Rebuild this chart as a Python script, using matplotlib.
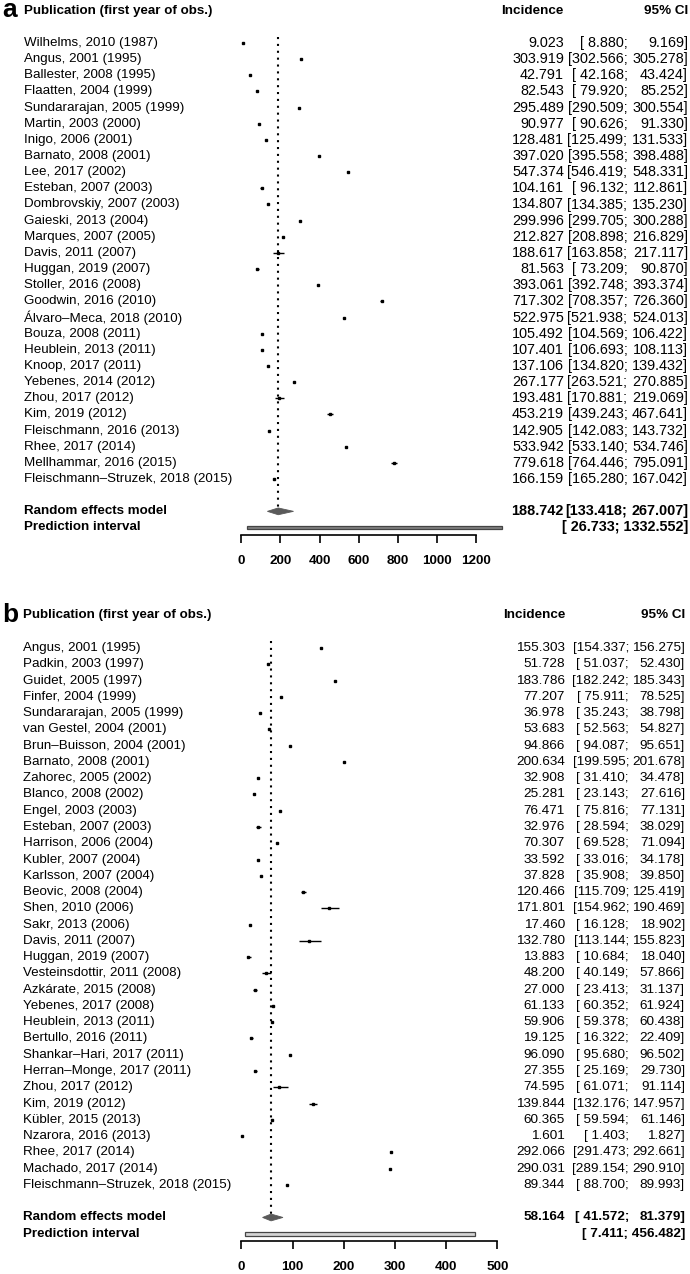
import matplotlib
matplotlib.use("Agg")
import matplotlib.pyplot as plt
from matplotlib.transforms import blended_transform_factory
from matplotlib.patches import Polygon, Rectangle

# ---- panel a: incidence, all studies
studies_a = ["Wilhelms, 2010 (1987)", "Angus, 2001 (1995)", "Ballester, 2008 (1995)",
             "Flaatten, 2004 (1999)", "Sundararajan, 2005 (1999)", "Martin, 2003 (2000)",
             "Inigo, 2006 (2001)", "Barnato, 2008 (2001)", "Lee, 2017 (2002)",
             "Esteban, 2007 (2003)", "Dombrovskiy, 2007 (2003)", "Gaieski, 2013 (2004)",
             "Marques, 2007 (2005)", "Davis, 2011 (2007)", "Huggan, 2019 (2007)",
             "Stoller, 2016 (2008)", "Goodwin, 2016 (2010)", "Álvaro–Meca, 2018 (2010)",
             "Bouza, 2008 (2011)", "Heublein, 2013 (2011)", "Knoop, 2017 (2011)",
             "Yebenes, 2014 (2012)", "Zhou, 2017 (2012)", "Kim, 2019 (2012)",
             "Fleischmann, 2016 (2013)", "Rhee, 2017 (2014)", "Mellhammar, 2016 (2015)",
             "Fleischmann–Struzek, 2018 (2015)"]
inc_a = [9.023, 303.919, 42.791, 82.543, 295.489, 90.977, 128.481, 397.020, 547.374,
         104.161, 134.807, 299.996, 212.827, 188.617, 81.563, 393.061, 717.302, 522.975,
         105.492, 107.401, 137.106, 267.177, 193.481, 453.219, 142.905, 533.942, 779.618,
         166.159]
lo_a = [8.880, 302.566, 42.168, 79.920, 290.509, 90.626, 125.499, 395.558, 546.419,
        96.132, 134.385, 299.705, 208.898, 163.858, 73.209, 392.748, 708.357, 521.938,
        104.569, 106.693, 134.820, 263.521, 170.881, 439.243, 142.083, 533.140, 764.446,
        165.280]
hi_a = [9.169, 305.278, 43.424, 85.252, 300.554, 91.330, 131.533, 398.488, 548.331,
        112.861, 135.230, 300.288, 216.829, 217.117, 90.870, 393.374, 726.360, 524.013,
        106.422, 108.113, 139.432, 270.885, 219.069, 467.641, 143.732, 534.746, 795.091,
        167.042]
pooled_a = [188.742, 133.418, 267.007]
pred_a = [26.733, 1332.552]
ticks_a = [0, 200, 400, 600, 800, 1000, 1200]

# ---- panel b
studies_b = ["Angus, 2001 (1995)", "Padkin, 2003 (1997)", "Guidet, 2005 (1997)",
             "Finfer, 2004 (1999)", "Sundararajan, 2005 (1999)", "van Gestel, 2004 (2001)",
             "Brun–Buisson, 2004 (2001)", "Barnato, 2008 (2001)", "Zahorec, 2005 (2002)",
             "Blanco, 2008 (2002)", "Engel, 2003 (2003)", "Esteban, 2007 (2003)",
             "Harrison, 2006 (2004)", "Kubler, 2007 (2004)", "Karlsson, 2007 (2004)",
             "Beovic, 2008 (2004)", "Shen, 2010 (2006)", "Sakr, 2013 (2006)",
             "Davis, 2011 (2007)", "Huggan, 2019 (2007)", "Vesteinsdottir, 2011 (2008)",
             "Azkárate, 2015 (2008)", "Yebenes, 2017 (2008)", "Heublein, 2013 (2011)",
             "Bertullo, 2016 (2011)", "Shankar–Hari, 2017 (2011)", "Herran–Monge, 2017 (2011)",
             "Zhou, 2017 (2012)", "Kim, 2019 (2012)", "Kübler, 2015 (2013)",
             "Nzarora, 2016 (2013)", "Rhee, 2017 (2014)", "Machado, 2017 (2014)",
             "Fleischmann–Struzek, 2018 (2015)"]
inc_b = [155.303, 51.728, 183.786, 77.207, 36.978, 53.683, 94.866, 200.634, 32.908,
         25.281, 76.471, 32.976, 70.307, 33.592, 37.828, 120.466, 171.801, 17.460,
         132.780, 13.883, 48.200, 27.000, 61.133, 59.906, 19.125, 96.090, 27.355,
         74.595, 139.844, 60.365, 1.601, 292.066, 290.031, 89.344]
lo_b = [154.337, 51.037, 182.242, 75.911, 35.243, 52.563, 94.087, 199.595, 31.410,
        23.143, 75.816, 28.594, 69.528, 33.016, 35.908, 115.709, 154.962, 16.128,
        113.144, 10.684, 40.149, 23.413, 60.352, 59.378, 16.322, 95.680, 25.169,
        61.071, 132.176, 59.594, 1.403, 291.473, 289.154, 88.700]
hi_b = [156.275, 52.430, 185.343, 78.525, 38.798, 54.827, 95.651, 201.678, 34.478,
        27.616, 77.131, 38.029, 71.094, 34.178, 39.850, 125.419, 190.469, 18.902,
        155.823, 18.040, 57.866, 31.137, 61.924, 60.438, 22.409, 96.502, 29.730,
        91.114, 147.957, 61.146, 1.827, 292.661, 290.910, 89.993]
pooled_b = [58.164, 41.572, 81.379]
pred_b = [7.411, 456.482]
ticks_b = [0, 100, 200, 300, 400, 500]

W, H = 690, 1274
plt.rcParams["font.family"] = ["Liberation Sans", "DejaVu Sans"]
fig = plt.figure(figsize=(W / 100, H / 100), dpi=100)


def lower_str(v):
    s = f"{v:.3f};"
    return "[" + (" " if len(s) < 8 else "") + s


def panel(letter, names, inc, lo, hi, pooled, pred, ticks, top, bot, row0, rowh,
          xscale, lab_x, inc_x, ci_lo_x, ci_x, numsize, pi_fill):
    ax = fig.add_axes([0, 1 - bot / H, 1, (bot - top) / H])
    x0 = 241.3
    ax.set_xlim(-x0 / xscale, (W - x0) / xscale)
    ax.set_ylim((bot - row0) / rowh, (top - row0) / rowh)
    ax.patch.set_visible(False)
    tr = blended_transform_factory(fig.transFigure, ax.transData)
    n = len(names)
    rows = list(range(n))
    r_re, r_pi = n + 1, n + 2
    labsize = 9.65

    # header
    ax.text(2 / W, -2.05, letter, transform=tr, fontsize=19, fontweight="bold", va="center")
    ax.text(lab_x / W, -2, "Publication (first year of obs.)", transform=tr,
            fontsize=9.6, fontweight="bold", va="center")
    ax.text(inc_x / W, -2, "Incidence", transform=tr, fontsize=9.7,
            fontweight="bold", va="center", ha="right")
    ax.text(ci_x / W, -2, "95% CI", transform=tr, fontsize=9.7,
            fontweight="bold", va="center", ha="right")

    for r, name, v, l, h in zip(rows, names, inc, lo, hi):
        ax.text(lab_x / W, r, name, transform=tr, fontsize=labsize, va="center")
        ax.text(inc_x / W, r, f"{v:.3f}", transform=tr, fontsize=numsize, va="center", ha="right")
        ax.text(ci_lo_x / W, r, lower_str(l), transform=tr, fontsize=numsize, va="center", ha="right")
        ax.text(ci_x / W, r, f"{h:.3f}]", transform=tr, fontsize=numsize, va="center", ha="right")

    ax.hlines(rows, lo, hi, color="black", lw=1.0)
    ax.plot(inc, rows, "s", color="black", markersize=2.1)

    # pooled estimate
    est, plo, phi = pooled
    ax.plot([est, est], [-0.4, r_re - 0.2], color="black", lw=1.5, linestyle=(0, (1, 2.3)))
    dh = 0.21
    ax.add_patch(Polygon([[plo, r_re], [est, r_re - dh], [phi, r_re], [est, r_re + dh]],
                         closed=True, facecolor="#5a5a5a", edgecolor="#5a5a5a", lw=0.6))
    ax.add_patch(Rectangle((pred[0], r_pi - 0.12), pred[1] - pred[0], 0.24,
                           facecolor=pi_fill, edgecolor="#444444", lw=0.9))

    for r, txt in [(r_re, "Random effects model"), (r_pi, "Prediction interval")]:
        ax.text(lab_x / W, r, txt, transform=tr, fontsize=9.6, fontweight="bold", va="center")
    ax.text(inc_x / W, r_re, f"{est:.3f}", transform=tr, fontsize=numsize,
            fontweight="bold", va="center", ha="right")
    ax.text(ci_lo_x / W, r_re, lower_str(plo), transform=tr, fontsize=numsize,
            fontweight="bold", va="center", ha="right")
    ax.text(ci_x / W, r_re, f"{phi:.3f}]", transform=tr, fontsize=numsize,
            fontweight="bold", va="center", ha="right")
    ax.text(ci_x / W, r_pi, f"[ {pred[0]:.3f}; {pred[1]:.3f}]", transform=tr,
            fontsize=numsize, fontweight="bold", va="center", ha="right")

    # axis
    for s in ["top", "left", "right"]:
        ax.spines[s].set_visible(False)
    ax.spines["bottom"].set_position(("data", r_pi + 0.47))
    ax.spines["bottom"].set_bounds(ticks[0], ticks[-1])
    ax.spines["bottom"].set_linewidth(1.2)
    ax.set_yticks([])
    ax.set_xticks(ticks)
    ax.set_xticklabels([str(t) for t in ticks], fontsize=9.7, fontweight="bold")
    ax.tick_params(axis="x", direction="out", length=5.8, width=1.2, pad=8.5)
    return ax


panel("a", studies_a, inc_a, lo_a, hi_a, pooled_a, pred_a, ticks_a,
      top=0, bot=592, row0=43, rowh=16.15, xscale=234.7 / 1200,
      lab_x=24, inc_x=564, ci_lo_x=627.5, ci_x=688, numsize=10.4, pi_fill="#808080")
panel("b", studies_b, inc_b, lo_b, hi_b, pooled_b, pred_b, ticks_b,
      top=595, bot=H, row0=648, rowh=16.27, xscale=256.0 / 500,
      lab_x=23, inc_x=565, ci_lo_x=629, ci_x=685, numsize=9.7, pi_fill="#d4d4d4")

fig.savefig("out.png", dpi=100, facecolor="white")
